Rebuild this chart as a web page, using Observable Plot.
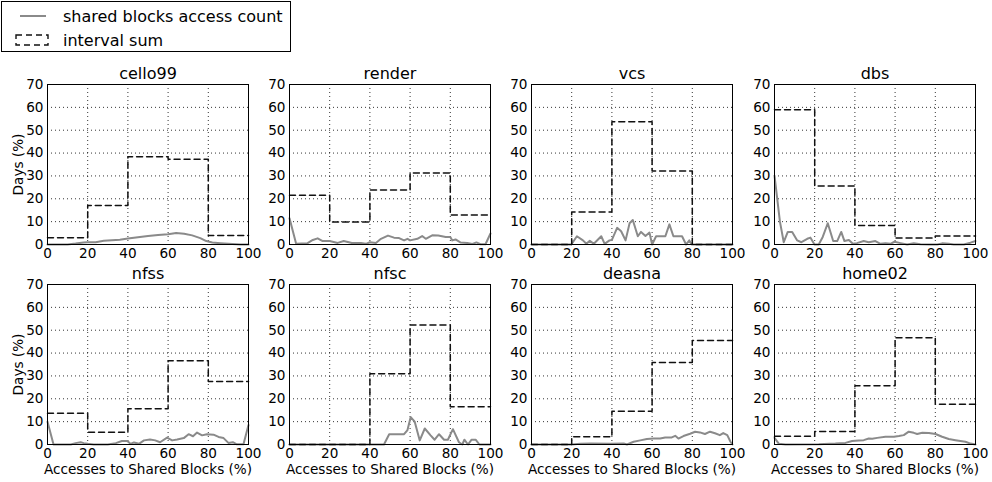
<!DOCTYPE html>
<html>
<head>
<meta charset="utf-8">
<script src="https://cdn.jsdelivr.net/npm/d3@7"></script>
<script src="https://cdn.jsdelivr.net/npm/@observablehq/plot@0.6"></script>
<style>
  html, body { margin: 0; padding: 0; background: #fff; }
  #chart { position: relative; width: 992px; height: 482px; overflow: hidden; font-family: "DejaVu Sans", sans-serif; }
  #chart > svg, #chart > figure { position: absolute; margin: 0; }
</style>
</head>
<body>
<div id="chart"></div>
<script>
// ---------- data ----------
const panelNames = ["cello99", "render", "vcs", "dbs", "nfss", "nfsc", "deasna", "home02"];
const intervalEdges = [0, 20, 40, 60, 80, 100];
const xTicks = [0, 20, 40, 60, 80, 100];
const yTicks = [0, 10, 20, 30, 40, 50, 60, 70];
const legendLabels = ["shared blocks access count", "interval sum"];
const xLabel = "Accesses to Shared Blocks (%)";
const yLabel = "Days (%)";

// interval sum (Days %) for 0-20, 20-40, 40-60, 60-80, 80-100
const intervalCello99 = [3.0, 17.1, 38.4, 37.3, 3.9];
const intervalRender  = [21.6, 9.8, 23.8, 31.3, 12.9];
const intervalVcs     = [0, 14.2, 53.7, 32.2, 0];
const intervalDbs     = [59.0, 25.6, 8.3, 2.8, 3.7];
const intervalNfss    = [13.7, 5.4, 15.6, 36.6, 27.6];
const intervalNfsc    = [0, 0, 31.0, 52.3, 16.5];
const intervalDeasna  = [0, 3.4, 14.5, 35.9, 45.5];
const intervalHome02  = [3.6, 5.7, 25.7, 46.7, 17.6];

// shared blocks access count: [access %, days %]
const countCello99 = [[0,0],[10,0],[14,0.4],[18,0.9],[20,1.0],[24,1.0],[28,1.6],[32,1.9],[36,2.1],[40,2.6],[45,3.2],[50,3.7],[55,4.2],[60,4.5],[64,5.0],[68,4.7],[72,4.0],[76,2.8],[79,1.5],[82,0.9],[86,0.6],[92,0.2],[96,0],[100,0]];
const countRender = [[0,11.5],[3.3,0.3],[9,0.6],[11.6,2],[14,2.7],[16.5,1.5],[20,1.5],[24,0.7],[27,1.5],[31,0.7],[35.5,0.7],[38,0.3],[40,1],[43,0.7],[45.5,2.5],[49,3.9],[52,3],[54.5,2.8],[57,1.8],[58.7,2.5],[60,1.8],[63.6,2.5],[66,3.7],[67.8,2.5],[71,4],[74,3.9],[77.7,3.3],[80,3.3],[81,1.8],[82.6,2.2],[85,0.9],[88.4,0.7],[91,0.2],[93,0.9],[95,0.1],[97.5,0.1],[100,4.8]];
const countVcs = [[0,0],[19.8,0],[22.6,3.6],[25.6,1.8],[27.3,0.3],[29,1.6],[31,0.3],[34.7,3.6],[36.4,0.3],[38.8,1.8],[40,2],[42.6,7.3],[44.6,5.8],[46.8,1.8],[48.8,9.3],[50.4,10.7],[52.9,3.6],[54.5,5.5],[56.7,3.7],[58.7,5.2],[60,0],[62,3.6],[66.6,3.6],[68.6,8.8],[70.6,3.6],[74.9,3.6],[76.9,0],[78.5,1.8],[79.7,0],[100,0]];
const countDbs = [[0,30.1],[2.7,10],[4.6,1],[6.6,5.5],[8.8,5.5],[11.3,1.8],[13.4,1],[16.3,2.5],[17.9,3],[19.9,0],[22,0],[24,3.3],[26.5,9.3],[29.2,1.5],[31.2,1.5],[33.2,5.5],[34.8,1.5],[37,2],[39,0.3],[41,0.6],[44.4,1.5],[46.9,1],[50.2,1.5],[52.7,0.3],[55.2,0.6],[57.7,0.3],[59.7,1.2],[62.7,0.6],[66,0],[69.3,0.5],[72.6,0.1],[76.8,0],[81,0],[83.4,0.5],[86.7,0.3],[89.2,0],[94.2,0],[97.5,0.8],[100,1.5]];
const countNfss = [[0,10],[3,0],[11.6,0],[14,0.6],[16.5,1],[18,0.6],[20,0.3],[23,0],[30,0],[34,0.6],[37,1.5],[39.7,1.5],[41.3,0.3],[43,0.9],[45.5,0.3],[48,1.8],[51,2.2],[53.6,1.8],[56,1],[59.5,3],[62,1.8],[64.5,2.2],[67.8,2.8],[70.2,4.5],[72.4,3.6],[74.4,5.2],[76.9,4],[79.3,4.5],[82.6,4.3],[85.1,3.3],[87.6,2.8],[90,0.7],[92.2,1],[94.2,0.1],[97.5,0.1],[100,8.5]];
const countNfsc = [[0,0],[47,0],[49.6,4.5],[57,4.5],[58.7,6.3],[60.3,12],[62.3,10],[64.8,1.8],[67.3,7],[70.2,4],[72.2,2.1],[74.4,4.5],[76.9,2.1],[78.8,2.1],[81.3,6.7],[84.3,1],[86,0],[87,2.1],[88.8,0],[90.6,2.1],[92.6,2.1],[94.5,0],[100,0]];
const countDeasna = [[0,0],[20,0],[24.4,0.3],[29.4,0.4],[39.3,0.3],[45.9,0.4],[47.5,0],[50.8,1.2],[54.1,1.8],[57.4,2.4],[60.7,2.6],[64,2.6],[66.5,3.1],[69.8,3.1],[71.5,3.8],[73.1,2.6],[75.6,3.7],[78.9,4.7],[81.4,5.6],[83.8,5.3],[86.3,4.6],[88.8,5.6],[91.3,4.9],[93.7,4.1],[95.4,5],[97.4,4.1],[99,1.2],[100,0]];
const countHome02 = [[0,2.9],[2.2,0.3],[5.5,0],[22,0.1],[30.3,0.4],[35.3,0.7],[38.6,1.5],[41.9,1.8],[44.4,1.9],[46.9,2.6],[48.6,2.5],[51.1,2.9],[55.2,3.4],[59.4,3.4],[61.9,3.7],[64.3,4.1],[66.8,5.6],[69.3,5.1],[71,4.6],[73.5,5.1],[76.8,5],[80.1,4.6],[83.4,3.4],[86.7,2.4],[90,1.9],[95,1.2],[97.5,0.4],[100,0]];

const counts = [countCello99, countRender, countVcs, countDbs, countNfss, countNfsc, countDeasna, countHome02];
const intervals = [intervalCello99, intervalRender, intervalVcs, intervalDbs, intervalNfss, intervalNfsc, intervalDeasna, intervalHome02];

// ---------- layout ----------
const chart = document.getElementById("chart");
const plotLefts = [47, 289, 531, 774];
const plotTops = [84, 284];
const plotW = 201, plotH = 160;
const mL = 47, mR = 17, mT = 24;
const FONT = "DejaVu Sans, sans-serif";
const FS = 13.6;

panelNames.forEach((name, i) => {
  const col = i % 4, row = Math.floor(i / 4);
  const mB = row === 0 ? 20 : 42;
  const steps = intervalEdges.map((e, k) => ({x: e, y: intervals[i][Math.min(k, 4)]}));
  const line = counts[i].map(([x, y]) => ({x, y}));
  const marks = [
    Plot.gridX(xTicks, {stroke: "black", strokeOpacity: 1, strokeWidth: 0.8, strokeDasharray: "1,3"}),
    Plot.gridY(yTicks, {stroke: "black", strokeOpacity: 1, strokeWidth: 0.8, strokeDasharray: "1,3"}),
    Plot.line(line, {x: "x", y: "y", stroke: "#8a8a8a", strokeWidth: 2}),
    Plot.line(steps, {x: "x", y: "y", curve: "step-after", stroke: "#111", strokeWidth: 1.5, strokeDasharray: "6,4"}),
    Plot.frame({stroke: "black", strokeWidth: 1}),
    Plot.axisX({ticks: xTicks, tickSize: 0, tickPadding: 4, label: null, fontSize: FS}),
    Plot.axisY({ticks: yTicks, tickSize: 0, tickPadding: 4, label: null, fontSize: FS}),
    Plot.text([name], {frameAnchor: "top", lineAnchor: "middle", dy: -11, fontSize: 16, text: d => d})
  ];
  if (col === 0) {
    marks.push(Plot.text([yLabel], {frameAnchor: "left", lineAnchor: "middle", textAnchor: "middle", dx: -29, rotate: -90, fontSize: FS, text: d => d}));
  }
  if (row === 1) {
    marks.push(Plot.text([xLabel], {frameAnchor: "bottom", lineAnchor: "middle", dy: 25, fontSize: FS, text: d => d}));
  }
  const svg = Plot.plot({
    width: mL + plotW + mR,
    height: mT + plotH + mB,
    marginLeft: mL, marginRight: mR, marginTop: mT, marginBottom: mB,
    x: {domain: [0, 100]},
    y: {domain: [0, 70]},
    style: {fontFamily: FONT, fontSize: FS + "px", color: "black", background: "transparent", overflow: "visible"},
    marks
  });
  svg.style.left = (plotLefts[col] - mL) + "px";
  svg.style.top = (plotTops[row] - mT) + "px";
  chart.appendChild(svg);
});

// ---------- legend ----------
const ns = "http://www.w3.org/2000/svg";
const leg = document.createElementNS(ns, "svg");
leg.setAttribute("width", 300);
leg.setAttribute("height", 60);
leg.style.left = "0px";
leg.style.top = "0px";
leg.innerHTML = `
  <rect x="1.5" y="1.5" width="289" height="50" fill="white" stroke="black" stroke-width="1"/>
  <line x1="20" x2="46" y1="16" y2="16" stroke="#8a8a8a" stroke-width="2"/>
  <rect x="16" y="35" width="32" height="10" fill="none" stroke="#111" stroke-width="1.4" stroke-dasharray="6,4"/>
  <text x="63" y="16" dy="0.35em" font-family="${FONT}" font-size="16">${legendLabels[0]}</text>
  <text x="63" y="40" dy="0.35em" font-family="${FONT}" font-size="16">${legendLabels[1]}</text>
`;
chart.appendChild(leg);
</script>
</body>
</html>
